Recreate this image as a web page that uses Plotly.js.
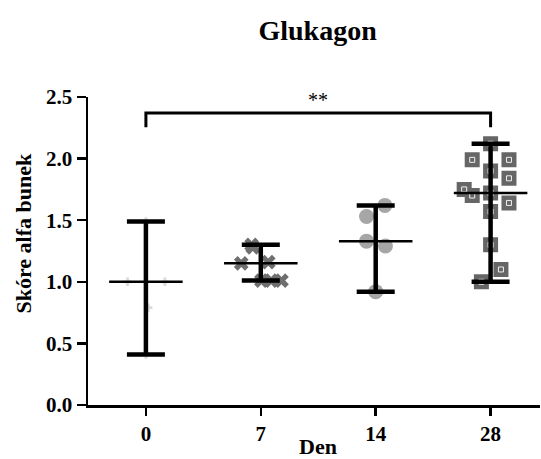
<!DOCTYPE html>
<html>
<head>
<meta charset="utf-8">
<script src="https://cdn.plot.ly/plotly-3.0.1.min.js"></script>
<style>html,body{margin:0;padding:0;background:#fff;}#chart{width:541px;height:459px;}</style>
</head>
<body>
<div id="chart"></div>
<script>
// ---- data ----
const days = ['0', '7', '14', '28'];
const vals0  = [1.49, 1.00, 1.00, 0.79, 0.41];
const off0   = [0.00, -0.16, 0.165, 0.02, 0.00];
const vals7  = [1.30, 1.28, 1.15, 1.16, 1.01, 1.01, 1.01];
const off7   = [-0.08, -0.07, -0.17, 0.065, 0.005, 0.09, 0.18];
const vals14 = [1.62, 1.53, 1.33, 1.29, 0.92];
const off14  = [0.08, -0.08, -0.08, 0.085, 0.00];
const vals28 = [2.12, 1.99, 1.99, 1.90, 1.84, 1.75, 1.70, 1.72, 1.64, 1.57, 1.30, 1.10, 1.00];
const off28  = [0.00, -0.16, 0.16, 0.00, 0.16, -0.23, -0.16, 0.00, 0.16, 0.00, 0.00, 0.09, -0.08];
const yTicks = [0, 0.5, 1.0, 1.5, 2.0, 2.5];
const sigText = '**';

// ---- summary (median and range) ----
function median(a){const s=[...a].sort((p,q)=>p-q);const n=s.length;return n%2?s[(n-1)/2]:(s[n/2-1]+s[n/2])/2;}
const groups = [vals0, vals7, vals14, vals28];
const offs = [off0, off7, off14, off28];
const meds = groups.map(median);
const highs = groups.map(g=>Math.max(...g));
const lows = groups.map(g=>Math.min(...g));
const idx = days.map((d,i)=>i);

const FONT = '"Liberation Serif", "Times New Roman", Times, serif';
const styles = [
  {symbol:'cross', size:7, color:'#d9d9d9'},
  {symbol:'x', size:13, color:'#6f6f6f'},
  {symbol:'circle', size:15, color:'#a6a6a6'},
  {symbol:'square', size:13, color:'#666666'}
];

const traces = [];
groups.forEach((g,i)=>{
  traces.push({
    type:'scatter', mode:'markers',
    x: g.map((v,k)=>i+offs[i][k]), y: g,
    marker:{symbol:styles[i].symbol, size:styles[i].size, color:styles[i].color,
            line:{width: i===3 ? 2 : 0, color:styles[i].color}},
    hoverinfo:'skip', showlegend:false
  });
});
// inner marks of the day-28 squares
traces.push({
  type:'scatter', mode:'markers',
  x: vals28.map((v,k)=>3+off28[k]), y: vals28,
  marker:{symbol:'square-open', size:5, color:'#f0f0f0', line:{width:1, color:'#f0f0f0'}},
  hoverinfo:'skip', showlegend:false
});
// range bars
traces.push({
  type:'scatter', mode:'markers', x: idx, y: meds,
  marker:{size:1, color:'rgba(0,0,0,0)'},
  error_y:{type:'data', symmetric:false,
           array: highs.map((h,i)=>h-meds[i]), arrayminus: meds.map((m,i)=>m-lows[i]),
           thickness:4.5, width:19, color:'#000000'},
  hoverinfo:'skip', showlegend:false
});

const shapes = meds.map((m,i)=>({type:'line', xref:'x', yref:'y', x0:i-0.32, x1:i+0.32, y0:m, y1:m,
  line:{color:'#000', width:2.5}, layer:'above'}));
// significance bracket between first and last group
const bTop = 2.37, bEnd = 2.255;
shapes.push({type:'path', xref:'x', yref:'y',
  path:`M ${idx[0]} ${bEnd} L ${idx[0]} ${bTop} L ${idx[3]} ${bTop} L ${idx[3]} ${bEnd}`,
  line:{color:'#000', width:3}, layer:'above'});

const layout = {
  width:541, height:459,
  margin:{l:88, r:1, t:97, b:54},
  paper_bgcolor:'#fff', plot_bgcolor:'#fff',
  font:{family:FONT},
  title:{text:'<b>Glukagon</b>', font:{family:FONT, size:28, color:'#000'},
         xref:'container', x:0.587, xanchor:'center', yref:'container', y:0.934, yanchor:'middle'},
  xaxis:{range:[-0.504, 3.43], tickvals:idx, ticktext:days.map(d=>'<b>'+d+'</b>'), showgrid:false, zeroline:false,
         showline:true, linecolor:'#000', linewidth:2.5, ticks:'outside', ticklen:8, tickwidth:2.5,
         tickcolor:'#000', ticklabelstandoff:0,
         tickfont:{family:FONT, size:21, color:'#000'}},
  yaxis:{range:[0, 2.5], tickvals:yTicks, ticktext:yTicks.map(v=>'<b>'+v.toFixed(1)+'</b>'), showgrid:false, zeroline:false,
         showline:true, linecolor:'#000', linewidth:2.5, ticks:'outside', ticklen:9, tickwidth:2.5,
         tickcolor:'#000',
         tickfont:{family:FONT, size:21, color:'#000'}},
  shapes: shapes,
  annotations:[
    {text:sigText, xref:'x', yref:'y', x:1.5, y:2.476, showarrow:false, xanchor:'center', yanchor:'middle',
     font:{family:FONT, size:20, color:'#000'}},
    {text:'<b>Den</b>', xref:'paper', yref:'paper', x:(317.5-88)/452, y:-(447-405)/308, showarrow:false,
     xanchor:'center', yanchor:'middle', borderpad:0, font:{family:FONT, size:22, color:'#000'}},
    {text:'<b>Skóre alfa bunek</b>', xref:'paper', yref:'paper', x:(22.5-88)/452, y:(405-233)/308, showarrow:false,
     textangle:-90, xanchor:'center', yanchor:'middle', borderpad:0, font:{family:FONT, size:22, color:'#000'}}
  ]
};

Plotly.newPlot('chart', traces, layout, {displayModeBar:false, staticPlot:true});
</script>
</body>
</html>
